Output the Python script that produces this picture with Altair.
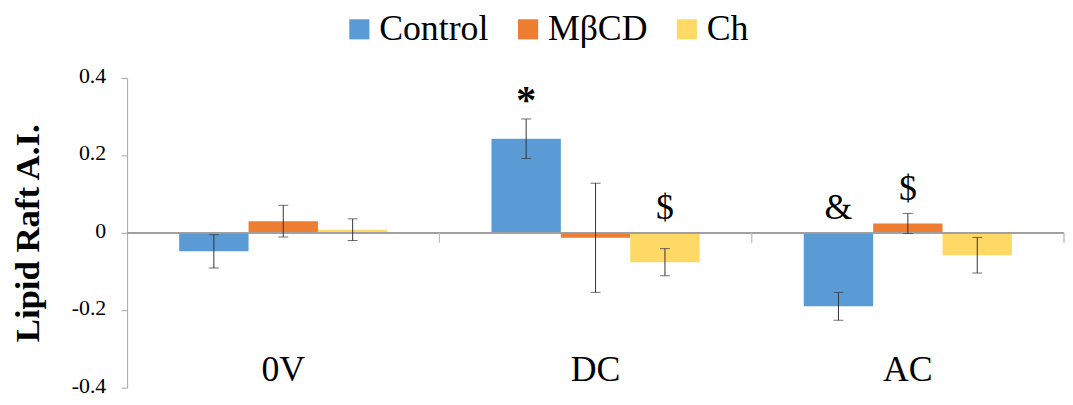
import altair as alt
import pandas as pd

SERIF = "Liberation Serif"

categories = ["0V", "DC", "AC"]
groups = ["Control", "MβCD", "Ch"]
control = [-0.048, 0.243, -0.190]
control_err = [0.043, 0.051, 0.036]
mbcd = [0.030, -0.013, 0.024]
mbcd_err = [0.041, 0.141, 0.026]
ch = [0.008, -0.076, -0.058]
ch_err = [0.028, 0.035, 0.046]
colors = ["#5B9BD5", "#ED7D31", "#FFD966"]

y_tick_values = [-0.4, -0.2, 0, 0.2, 0.4]
y_tick_labels = ["-0.4", "-0.2", "0", "0.2", "0.4"]

ann_cat = ["DC", "DC", "AC", "AC"]
ann_group = ["Control", "Ch", "Control", "MβCD"]
ann_text = ["*", "$", "&", "$"]

series = {"Control": (control, control_err), "MβCD": (mbcd, mbcd_err), "Ch": (ch, ch_err)}
rows = []
for i, c in enumerate(categories):
    for g in groups:
        v, e = series[g][0][i], series[g][1][i]
        rows.append({"cat": c, "group": g, "value": v, "lo": v - e, "hi": v + e,
                     "top": max(v + e, 0)})
df = pd.DataFrame(rows)

ann_rows = []
for c, g, t in zip(ann_cat, ann_group, ann_text):
    r = df[(df.cat == c) & (df.group == g)].iloc[0]
    ann_rows.append({"cat": c, "group": g, "label": t, "top": r["top"]})
ann = pd.DataFrame(ann_rows)

ylab = pd.DataFrame({"v": y_tick_values, "t": y_tick_labels})

x_main = alt.X("cat:N", sort=categories,
               scale=alt.Scale(paddingInner=0, paddingOuter=0),
               axis=alt.Axis(title=None, domain=False, ticks=False, tickSize=0,
                             labelFont=SERIF, labelFontSize=36, labelColor="black",
                             labelAngle=0, labelBaseline="alphabetic", labelPadding=-7))
x_plain = alt.X("cat:N", sort=categories)
xo = alt.XOffset("group:N", sort=groups, scale=alt.Scale(paddingInner=0, paddingOuter=0.75))

y_axis = alt.Axis(title="Lipid Raft A.I.", values=y_tick_values, labels=False,
                  grid=False, tickSize=6, tickColor="#A6A6A6", domainColor="#A6A6A6",
                  titleFont=SERIF, titleFontSize=35, titleFontWeight="bold",
                  titleColor="black", titlePadding=76)
y_scale = alt.Scale(domain=[-0.4, 0.4], nice=False)

base = alt.Chart(df)

bars = base.mark_bar().encode(
    x=x_main, xOffset=xo, y=alt.Y("value:Q", scale=y_scale, axis=y_axis),
    color=alt.Color("group:N", sort=groups, scale=alt.Scale(domain=groups, range=colors),
                    legend=alt.Legend(title=None, orient="none", legendX=216, legendY=-67,
                                      direction="horizontal", symbolType="square", symbolSize=410,
                                      symbolStrokeWidth=0, labelFont=SERIF, labelFontSize=36,
                                      labelColor="black", labelOffset=2, columnPadding=21,
                                      padding=0)),
)

ylabels = alt.Chart(ylab).mark_text(font=SERIF, fontSize=22, align="right", baseline="middle",
                                    dy=-2, color="black").encode(
    x=alt.value(-21), y=alt.Y("v:Q", scale=y_scale), text="t:N")

zero = base.mark_rule(color="#A0A0A0", strokeWidth=1).encode(
    y=alt.Y("zero:Q", scale=y_scale)).transform_calculate(zero="0")

bticks = base.mark_tick(orient="vertical", size=10, yOffset=5, thickness=1, color="#BFBFBF").encode(
    x=alt.X("cat:N", sort=categories, bandPosition=1),
    y=alt.Y("zero:Q", scale=y_scale)).transform_calculate(zero="0")

err = base.mark_rule(color="#333333", strokeWidth=1).encode(
    x=x_plain, xOffset=xo, y=alt.Y("lo:Q", scale=y_scale), y2="hi:Q")
cap_lo = base.mark_tick(size=10, thickness=1, color="#333333").encode(
    x=x_plain, xOffset=xo, y=alt.Y("lo:Q", scale=y_scale))
cap_hi = base.mark_tick(size=10, thickness=1, color="#333333").encode(
    x=x_plain, xOffset=xo, y=alt.Y("hi:Q", scale=y_scale))

ann_star = alt.Chart(ann).transform_filter("datum.label == '*'").mark_text(
    font=SERIF, fontSize=40, fontWeight="bold", baseline="alphabetic", dy=-6, color="black").encode(
    x=x_plain, xOffset=xo, y=alt.Y("top:Q", scale=y_scale), text="label:N")
ann_other = alt.Chart(ann).transform_filter("datum.label != '*'").mark_text(
    font=SERIF, fontSize=36, baseline="alphabetic", dy=-14, color="black").encode(
    x=x_plain, xOffset=xo, y=alt.Y("top:Q", scale=y_scale), text="label:N")

chart = alt.layer(bars, zero, bticks, err, cap_lo, cap_hi, ann_star, ann_other, ylabels).properties(
    width=944, height=312,
    autosize=alt.AutoSizeParams(type="none"),
    padding={"left": 120, "top": 69, "right": 1, "bottom": 8},
).configure_view(stroke=None)

chart.save("out.html", embed_options={"renderer": "svg", "actions": False})
